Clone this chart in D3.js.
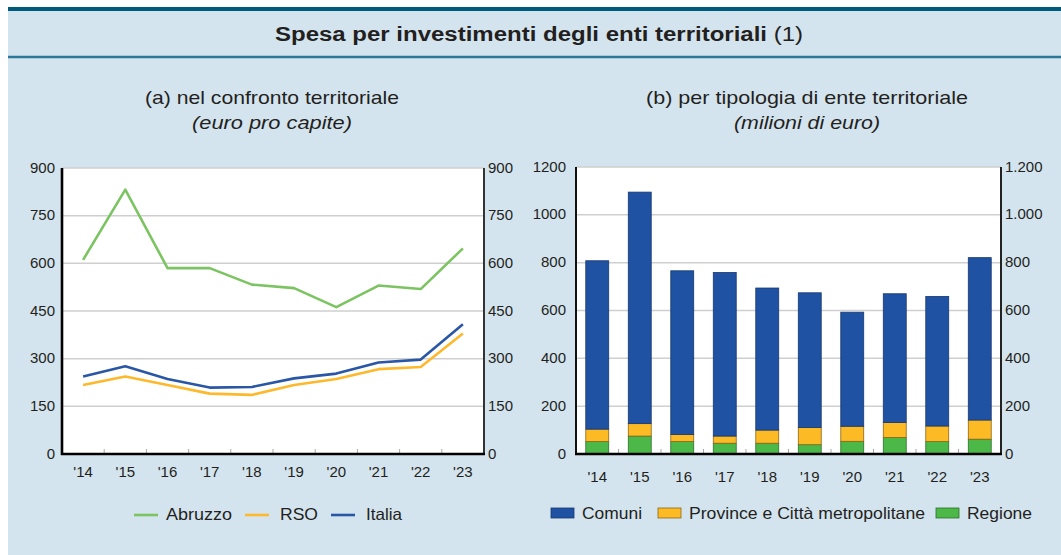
<!DOCTYPE html>
<meta charset="utf-8">
<title>Spesa per investimenti degli enti territoriali</title>
<style>
  body { margin: 0; background: #fff; }
  svg { display: block; font-family: "Liberation Sans", Arial, sans-serif; }
  text { fill: #231f20; }
  .tick-label { font-size: 15px; }
  .grid { stroke: #cfcfcf; stroke-width: 1.5; }
</style>
<body>
<script src="https://cdn.jsdelivr.net/npm/d3@7"></script>
<script>
  // --- data ---
  var years = ["'14", "'15", "'16", "'17", "'18", "'19", "'20", "'21", "'22", "'23"];

  // (a) euro pro capite
  var abruzzo = [611, 832, 585, 585, 533, 522, 462, 530, 519, 647];
  var rso     = [217, 244, 217, 190, 186, 217, 236, 267, 274, 379];
  var italia  = [244, 276, 236, 209, 211, 238, 253, 288, 297, 408];

  // (b) milioni di euro
  var regione  = [52, 75, 52, 45, 45, 39, 53, 69, 52, 62];
  var province = [52, 52, 30, 30, 55, 72, 63, 63, 65, 80];
  var comuni   = [704, 968, 684, 684, 594, 563, 477, 538, 542, 679];

  var leftTicks  = [0, 150, 300, 450, 600, 750, 900];
  var rightTicks = [0, 200, 400, 600, 800, 1000, 1200];

  var W = 1061, H = 555;
  var svg = d3.select("body").append("svg")
      .attr("width", W)
      .attr("height", H);

  // background panel
  svg.append("rect").attr("x", 8).attr("y", 7).attr("width", W - 8).attr("height", H - 7)
      .attr("fill", "#d4e4ee");
  svg.append("rect").attr("x", 8).attr("y", 7).attr("width", W - 8).attr("height", 4)
      .attr("fill", "#005a7c");
  svg.append("line").attr("x1", 8).attr("x2", W).attr("y1", 57).attr("y2", 57)
      .attr("stroke", "#2c7696").attr("stroke-width", 2.5);

  var title = svg.append("text")
      .attr("x", 539).attr("y", 41)
      .attr("text-anchor", "middle")
      .attr("font-size", 20)
      .attr("textLength", 528).attr("lengthAdjust", "spacingAndGlyphs");
  title.append("tspan").attr("font-weight", "bold").text("Spesa per investimenti degli enti territoriali ");
  title.append("tspan").text("(1)");

  function subtitle(cx, line1, line2, w1, w2) {
    svg.append("text").attr("x", cx).attr("y", 104).attr("text-anchor", "middle")
        .attr("font-size", 19).attr("textLength", w1).attr("lengthAdjust", "spacingAndGlyphs")
        .text(line1);
    svg.append("text").attr("x", cx).attr("y", 129).attr("text-anchor", "middle")
        .attr("font-size", 19).attr("font-style", "italic")
        .attr("textLength", w2).attr("lengthAdjust", "spacingAndGlyphs")
        .text(line2);
  }
  subtitle(272, "(a) nel confronto territoriale", "(euro pro capite)", 254, 160);
  subtitle(807, "(b) per tipologia di ente territoriale", "(milioni di euro)", 322, 146);

  // ---------- panel (a): lines ----------
  var a = {left: 62, right: 484, top: 168, bottom: 454};

  var xa = d3.scaleBand().domain(years).range([a.left, a.right]).padding(0);
  var ya = d3.scaleLinear().domain([0, 900]).range([a.bottom, a.top]);

  svg.append("rect").attr("x", a.left).attr("y", a.top)
      .attr("width", a.right - a.left).attr("height", a.bottom - a.top).attr("fill", "#fff");

  svg.append("g").selectAll("line").data(leftTicks.slice(1)).join("line")
      .attr("class", "grid")
      .attr("x1", a.left).attr("x2", a.right)
      .attr("y1", function(d) { return ya(d); }).attr("y2", function(d) { return ya(d); });

  svg.append("g").selectAll("line").data(years.slice(1)).join("line")
      .attr("stroke", "#aaa").attr("stroke-width", 1)
      .attr("x1", function(d) { return xa(d); }).attr("x2", function(d) { return xa(d); })
      .attr("y1", a.bottom).attr("y2", a.bottom - 5);

  var line = d3.line()
      .x(function(d, i) { return xa(years[i]) + xa.bandwidth() / 2; })
      .y(function(d) { return ya(d); });

  var series = [
    {name: "Abruzzo", values: abruzzo, color: "#7cc462", w: 66},
    {name: "RSO", values: rso, color: "#fdb82b", w: 38},
    {name: "Italia", values: italia, color: "#2a56a6", w: 36}
  ];

  svg.append("g").selectAll("path").data(series).join("path")
      .attr("fill", "none")
      .attr("stroke", function(d) { return d.color; })
      .attr("stroke-width", 2.6)
      .attr("stroke-linejoin", "round")
      .attr("d", function(d) { return line(d.values); });

  // frame
  svg.append("line").attr("x1", a.right).attr("x2", a.right).attr("y1", a.top).attr("y2", a.bottom)
      .attr("stroke", "#333").attr("stroke-width", 2);
  svg.append("line").attr("x1", a.left).attr("x2", a.left).attr("y1", a.top).attr("y2", a.bottom + 1)
      .attr("stroke", "#000").attr("stroke-width", 2.6);
  svg.append("line").attr("x1", a.left - 1).attr("x2", a.right + 1).attr("y1", a.bottom).attr("y2", a.bottom)
      .attr("stroke", "#000").attr("stroke-width", 2.6);

  svg.append("g").selectAll("text").data(leftTicks).join("text")
      .attr("class", "tick-label")
      .attr("x", a.left - 7).attr("y", function(d) { return ya(d); })
      .attr("dy", "0.3em").attr("text-anchor", "end")
      .text(function(d) { return d; });
  svg.append("g").selectAll("text").data(leftTicks).join("text")
      .attr("class", "tick-label")
      .attr("x", a.right + 4).attr("y", function(d) { return ya(d); })
      .attr("dy", "0.3em")
      .text(function(d) { return d; });
  svg.append("g").selectAll("text").data(years).join("text")
      .attr("class", "tick-label")
      .attr("x", function(d) { return xa(d) + xa.bandwidth() / 2; })
      .attr("y", 477).attr("text-anchor", "middle")
      .text(function(d) { return d; });

  // legend (a)
  var legA = [{x: 134, tx: 166}, {x: 245, tx: 280}, {x: 331, tx: 366}];
  legA.forEach(function(p, i) {
    svg.append("line").attr("x1", p.x).attr("x2", p.x + 24).attr("y1", 515).attr("y2", 515)
        .attr("stroke", series[i].color).attr("stroke-width", 2.6);
    svg.append("text").attr("x", p.tx).attr("y", 520).attr("font-size", 16.5)
        .attr("textLength", series[i].w).attr("lengthAdjust", "spacingAndGlyphs")
        .text(series[i].name);
  });

  // ---------- panel (b): stacked bars ----------
  var b = {left: 576, right: 1001, top: 167, bottom: 454};

  var xb = d3.scaleBand().domain(years).range([b.left, b.right]).paddingInner(0.46).paddingOuter(0.23);
  var xbBand = d3.scaleBand().domain(years).range([b.left, b.right]).padding(0);
  var yb = d3.scaleLinear().domain([0, 1200]).range([b.bottom, b.top]);

  svg.append("rect").attr("x", b.left).attr("y", b.top)
      .attr("width", b.right - b.left).attr("height", b.bottom - b.top).attr("fill", "#fff");

  svg.append("g").selectAll("line").data(rightTicks.slice(1)).join("line")
      .attr("class", "grid")
      .attr("x1", b.left).attr("x2", b.right)
      .attr("y1", function(d) { return yb(d); }).attr("y2", function(d) { return yb(d); });

  svg.append("g").selectAll("line").data(years.slice(1)).join("line")
      .attr("stroke", "#aaa").attr("stroke-width", 1)
      .attr("x1", function(d) { return xbBand(d); }).attr("x2", function(d) { return xbBand(d); })
      .attr("y1", b.bottom).attr("y2", b.bottom - 5);

  var keys = ["Regione", "Province e Città metropolitane", "Comuni"];
  var colors = {"Regione": "#4cb848", "Province e Città metropolitane": "#fcba24", "Comuni": "#1f52a3"};
  var strokes = {"Regione": "#2f6e2c", "Province e Città metropolitane": "#8c6618", "Comuni": "#17386f"};

  var table = years.map(function(y, i) {
    return {year: y, "Regione": regione[i], "Province e Città metropolitane": province[i], "Comuni": comuni[i]};
  });
  var stacked = d3.stack().keys(keys)(table);

  svg.append("g").selectAll("g").data(stacked).join("g")
      .attr("fill", function(d) { return colors[d.key]; })
      .attr("stroke", function(d) { return strokes[d.key]; })
      .attr("stroke-width", 0.8)
    .selectAll("rect").data(function(d) { return d; }).join("rect")
      .attr("x", function(d) { return xb(d.data.year); })
      .attr("width", xb.bandwidth())
      .attr("y", function(d) { return yb(d[1]); })
      .attr("height", function(d) { return yb(d[0]) - yb(d[1]); });

  svg.append("line").attr("x1", b.right).attr("x2", b.right).attr("y1", b.top).attr("y2", b.bottom)
      .attr("stroke", "#222").attr("stroke-width", 2);
  svg.append("line").attr("x1", b.left).attr("x2", b.left).attr("y1", b.top).attr("y2", b.bottom + 1)
      .attr("stroke", "#111").attr("stroke-width", 2);
  svg.append("line").attr("x1", b.left - 1).attr("x2", b.right + 1).attr("y1", b.bottom).attr("y2", b.bottom)
      .attr("stroke", "#000").attr("stroke-width", 2.6);

  var itFormat = d3.formatLocale({decimal: ",", thousands: ".", grouping: [3], currency: ["", " €"]}).format(",d");

  svg.append("g").selectAll("text").data(rightTicks).join("text")
      .attr("class", "tick-label")
      .attr("x", b.left - 10).attr("y", function(d) { return yb(d); })
      .attr("dy", "0.3em").attr("text-anchor", "end")
      .text(function(d) { return d; });
  svg.append("g").selectAll("text").data(rightTicks).join("text")
      .attr("class", "tick-label")
      .attr("x", b.right + 4).attr("y", function(d) { return yb(d); })
      .attr("dy", "0.3em")
      .text(function(d) { return itFormat(d); });
  svg.append("g").selectAll("text").data(years).join("text")
      .attr("class", "tick-label")
      .attr("x", function(d) { return xbBand(d) + xbBand.bandwidth() / 2; })
      .attr("y", 482).attr("text-anchor", "middle")
      .text(function(d) { return d; });

  // legend (b)
  var legB = [
    {key: "Comuni", x: 551, tx: 582, w: 60},
    {key: "Province e Città metropolitane", x: 658, tx: 689, w: 236},
    {key: "Regione", x: 936, tx: 967, w: 65}
  ];
  legB.forEach(function(p) {
    svg.append("rect").attr("x", p.x).attr("y", 508).attr("width", 23).attr("height", 10)
        .attr("fill", colors[p.key]).attr("stroke", strokes[p.key]).attr("stroke-width", 0.8);
    svg.append("text").attr("x", p.tx).attr("y", 519).attr("font-size", 16.5)
        .attr("textLength", p.w).attr("lengthAdjust", "spacingAndGlyphs")
        .text(p.key);
  });
</script>
</body>
</html>
